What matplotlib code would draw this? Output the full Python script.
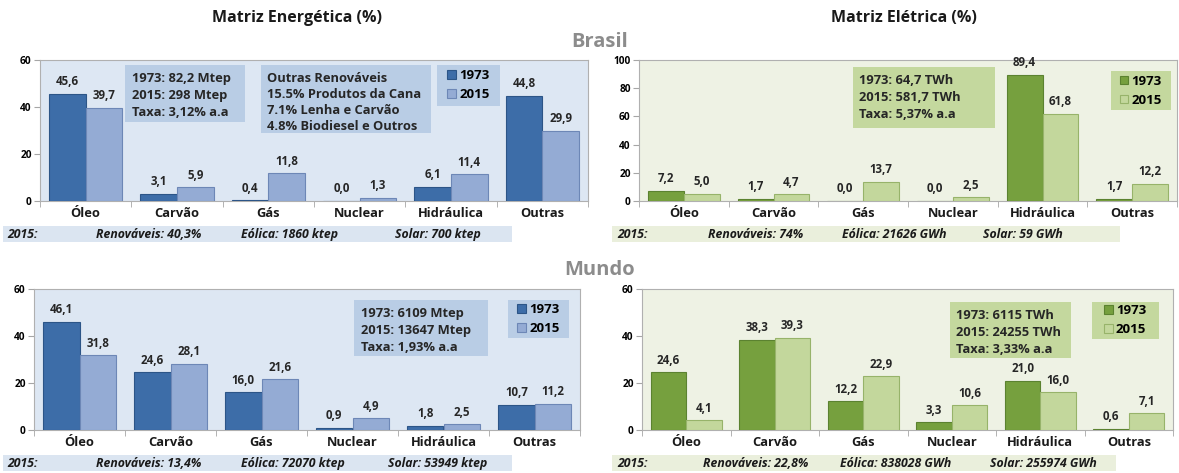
import matplotlib.pyplot as plt
from matplotlib.patches import Rectangle

plt.rcParams['font.family'] = ['Open Sans', 'DejaVu Sans']

fontes = ['Óleo', 'Carvão', 'Gás', 'Nuclear', 'Hidráulica', 'Outras']
anos = ['1973', '2015']

# Matriz energetica (%)
br_energ_1973 = [45.6, 3.1, 0.4, 0.0, 6.1, 44.8]
br_energ_2015 = [39.7, 5.9, 11.8, 1.3, 11.4, 29.9]
mu_energ_1973 = [46.1, 24.6, 16.0, 0.9, 1.8, 10.7]
mu_energ_2015 = [31.8, 28.1, 21.6, 4.9, 2.5, 11.2]

# Matriz eletrica (%)
br_elet_1973 = [7.2, 1.7, 0.0, 0.0, 89.4, 1.7]
br_elet_2015 = [5.0, 4.7, 13.7, 2.5, 61.8, 12.2]
mu_elet_1973 = [24.6, 38.3, 12.2, 3.3, 21.0, 0.6]
mu_elet_2015 = [4.1, 39.3, 22.9, 10.6, 16.0, 7.1]

br_energ_info = ['1973: 82,2 Mtep', '2015: 298 Mtep', 'Taxa: 3,12% a.a']
br_renov_info = ['Outras Renováveis', '15.5% Produtos da Cana',
                 '7.1% Lenha e Carvão', '4.8% Biodiesel e Outros']
br_elet_info = ['1973: 64,7 TWh', '2015: 581,7 TWh', 'Taxa: 5,37% a.a']
mu_energ_info = ['1973: 6109 Mtep', '2015: 13647 Mtep', 'Taxa: 1,93% a.a']
mu_elet_info = ['1973: 6115 TWh', '2015: 24255 TWh', 'Taxa: 3,33% a.a']

br_energ_rodape = ['2015:', 'Renováveis: 40,3%', 'Eólica: 1860 ktep', 'Solar: 700 ktep']
br_elet_rodape = ['2015:', 'Renováveis: 74%', 'Eólica: 21626 GWh', 'Solar: 59 GWh']
mu_energ_rodape = ['2015:', 'Renováveis: 13,4%', 'Eólica: 72070 ktep', 'Solar: 53949 ktep']
mu_elet_rodape = ['2015:', 'Renováveis: 22,8%', 'Eólica: 838028 GWh', 'Solar: 255974 GWh']

W, H = 1179, 473
AZUL = dict(c1='#3d6da8', c2='#94abd4', e1='#2c5587', e2='#6d87b6',
            fundo='#dde7f3', caixa='#b9cde5', faixa='#dbe5f1')
VERDE = dict(c1='#76a03e', c2='#c3d79c', e1='#5b8230', e2='#97b36a',
             fundo='#eef2e4', caixa='#c4d89e', faixa='#eaefdc')

fig = plt.figure(figsize=(W / 100, H / 100), dpi=100)


def px_axes(x0, y0, x1, y1):
    # pixel box (top-left origin) -> figure fraction axes
    return fig.add_axes([x0 / W, 1 - y1 / H, (x1 - x0) / W, (y1 - y0) / H])


def caixa(ax, x0, y0, x1, y1, cor):
    ax.add_patch(Rectangle((x0, y0), x1 - x0, y1 - y0, transform=ax.transAxes,
                           facecolor=cor, edgecolor='none', zorder=1))


def bloco(ax, pos, linhas, cor, ls):
    x0, y0, x1, y1 = pos
    caixa(ax, x0, y0, x1, y1, cor)
    ax.text(x0 + 0.012, y1 - 0.05, '\n'.join(linhas), transform=ax.transAxes,
            ha='left', va='top', fontsize=9.3, fontweight='bold',
            color='#262626', linespacing=ls, zorder=2)


def painel(box, v1973, v2015, ymax, step, pal, info, info_pos, leg_pos, extra=None):
    ax = px_axes(*box)
    ax.set_facecolor(pal['fundo'])
    x = range(len(fontes))
    w = 0.4
    b1 = ax.bar([i - w / 2 for i in x], v1973, w, color=pal['c1'],
                edgecolor=pal['e1'], linewidth=0.8, zorder=3)
    b2 = ax.bar([i + w / 2 for i in x], v2015, w, color=pal['c2'],
                edgecolor=pal['e2'], linewidth=0.8, zorder=3)
    for bars, vals in ((b1, v1973), (b2, v2015)):
        for r, v in zip(bars, vals):
            ax.annotate(f'{v:.1f}'.replace('.', ','),
                        (r.get_x() + r.get_width() / 2, v),
                        xytext=(0, 4), textcoords='offset points',
                        ha='center', va='bottom', fontsize=8.3,
                        fontweight='bold', color='#262626', zorder=4)
    ax.set_xlim(-0.5, len(fontes) - 0.5)
    ax.set_ylim(0, ymax)
    ax.set_yticks(range(0, ymax + 1, step))
    ax.set_xticks(x)
    ax.set_xticklabels(fontes, fontsize=9.3, fontweight='bold', color='#1a1a1a')
    ax.set_xticks([i - 0.5 for i in range(len(fontes) + 1)], minor=True)
    ax.tick_params(axis='x', which='major', length=0, pad=4)
    ax.tick_params(axis='x', which='minor', length=4, color='#a6a6a6')
    ax.tick_params(axis='y', length=4, color='#a6a6a6', labelsize=7.3,
                   pad=2)
    for lab in ax.get_yticklabels():
        lab.set_fontweight('bold')
    for s in ax.spines.values():
        s.set_color('#b0b0b0')
        s.set_linewidth(0.8)

    bloco(ax, info_pos, info, pal['caixa'], 1.42)
    if extra is not None:
        bloco(ax, extra, br_renov_info, pal['caixa'], 1.3)

    # legend box
    lx0, ly0, lx1, ly1 = leg_pos
    caixa(ax, lx0, ly0, lx1, ly1, pal['caixa'])
    leg = ax.legend([b1, b2], anos, loc='center',
                    bbox_to_anchor=((lx0 + lx1) / 2, (ly0 + ly1) / 2),
                    frameon=False, prop={'size': 9.5, 'weight': 'bold'},
                    handlelength=0.65, handleheight=0.65, handletextpad=0.25,
                    labelspacing=0.45, borderpad=0, borderaxespad=0)
    leg.set_zorder(5)
    return ax


def rodape(x0, x1, y, textos, xs, cor):
    fig.patches.append(Rectangle((x0 / W, 1 - (y + 8) / H), (x1 - x0) / W, 16 / H,
                                 transform=fig.transFigure, facecolor=cor,
                                 edgecolor='none'))
    for t, xt in zip(textos, xs):
        fig.text(xt / W, 1 - y / H, t, ha='left', va='center',
                 fontsize=8.8, fontstyle='italic',
                 fontweight='bold', color='#1a1a1a')


# Brasil
painel((40, 60, 588, 201), br_energ_1973, br_energ_2015, 60, 20, AZUL,
       br_energ_info, (0.156, 0.563, 0.374, 0.965), (0.724, 0.674, 0.84, 0.965),
       extra=(0.403, 0.48, 0.714, 0.965))
painel((639, 60, 1177, 201), br_elet_1973, br_elet_2015, 100, 20, VERDE,
       br_elet_info, (0.397, 0.52, 0.661, 0.95), (0.877, 0.645, 0.989, 0.92))
# Mundo
painel((34, 289, 580, 430), mu_energ_1973, mu_energ_2015, 60, 20, AZUL,
       mu_energ_info, (0.586, 0.522, 0.831, 0.922), (0.869, 0.654, 0.979, 0.922))
painel((642, 289, 1173, 430), mu_elet_1973, mu_elet_2015, 60, 20, VERDE,
       mu_elet_info, (0.58, 0.509, 0.808, 0.911), (0.847, 0.643, 0.973, 0.911))

rodape(3, 512, 234, br_energ_rodape, [7, 96, 241, 395], AZUL['faixa'])
rodape(612, 1120, 234, br_elet_rodape, [617, 708, 842, 983], VERDE['faixa'])
rodape(3, 512, 463, mu_energ_rodape, [7, 96, 241, 388], AZUL['faixa'])
rodape(612, 1116, 463, mu_elet_rodape, [617, 703, 840, 990], VERDE['faixa'])

fig.text(297 / W, 1 - 18 / H, 'Matriz Energética (%)', ha='center', va='center',
         fontsize=11.5, fontweight='bold', color='#1a1a1a')
fig.text(904 / W, 1 - 18 / H, 'Matriz Elétrica (%)', ha='center', va='center',
         fontsize=11.5, fontweight='bold', color='#1a1a1a')
fig.text(600 / W, 1 - 42 / H, 'Brasil', ha='center', va='center',
         fontsize=14.5, fontweight='bold', color='#8c8c8c')
fig.text(600 / W, 1 - 270 / H, 'Mundo', ha='center', va='center',
         fontsize=14.5, fontweight='bold', color='#8c8c8c')

fig.savefig('out.png', dpi=100, facecolor='white')
